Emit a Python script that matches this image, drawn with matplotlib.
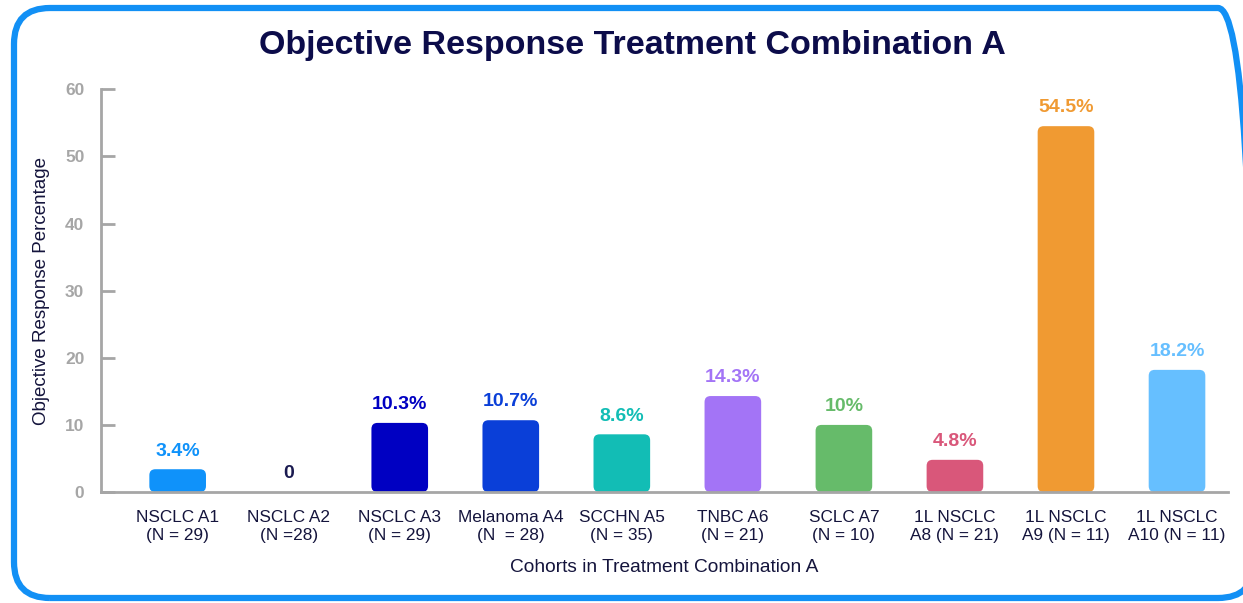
import matplotlib

matplotlib.use("Agg")
import matplotlib.pyplot as plt
from matplotlib.patches import FancyBboxPatch

plt.rcParams["font.family"] = ["Liberation Sans", "DejaVu Sans"]

cohorts = [
    "NSCLC A1\n(N = 29)",
    "NSCLC A2\n(N =28)",
    "NSCLC A3\n(N = 29)",
    "Melanoma A4\n(N  = 28)",
    "SCCHN A5\n(N = 35)",
    "TNBC A6\n(N = 21)",
    "SCLC A7\n(N = 10)",
    "1L NSCLC\nA8 (N = 21)",
    "1L NSCLC\nA9 (N = 11)",
    "1L NSCLC\nA10 (N = 11)",
]
response_pct = [3.4, 0, 10.3, 10.7, 8.6, 14.3, 10.0, 4.8, 54.5, 18.2]
value_labels = ["3.4%", "0", "10.3%", "10.7%", "8.6%", "14.3%", "10%", "4.8%", "54.5%", "18.2%"]
bar_colors = [
    "#0F92FA", "#1A1A50", "#0000C2", "#0A3FD8", "#12BDB5",
    "#A374F6", "#66BB6A", "#D9577A", "#F09A32", "#66BFFF",
]

NAVY = "#14143C"
GRAY = "#A6A6A6"

fig = plt.figure(figsize=(12.43, 6.03), dpi=100)
ax = fig.add_axes([0.0813, 0.184, 0.9067, 0.668])

x = list(range(len(cohorts)))
bars = ax.bar(x, response_pct, width=0.51, color=bar_colors)

# swap square bars for ones with slightly rounded corners
px_x = 1 / 111.0
px_y = 60 / 403.0
for rect, color in zip(bars.patches, bar_colors):
    rect.set_visible(False)
    if rect.get_height() <= 0:
        continue
    rounded = FancyBboxPatch(
        (rect.get_x(), rect.get_y()),
        rect.get_width(),
        rect.get_height(),
        boxstyle=f"round,pad=0,rounding_size={6 * px_x}",
        mutation_aspect=px_y / px_x,
        facecolor=color,
        edgecolor="none",
        zorder=2,
    )
    ax.add_patch(rounded)

for xi, val, label, color in zip(x, response_pct, value_labels, bar_colors):
    ax.annotate(
        label,
        (xi, val),
        xytext=(0, 7),
        textcoords="offset points",
        ha="center",
        va="bottom",
        fontsize=14,
        fontweight="bold",
        color=color,
    )

ax.set_xlim(-0.69, 9.46)
ax.set_ylim(0, 60)
ax.set_yticks(range(0, 61, 10))
ax.set_xticks(x)
ax.set_xticklabels(cohorts, fontsize=12.4, color=NAVY, linespacing=1.2)
ax.tick_params(axis="x", length=0, pad=13)
ax.tick_params(axis="y", direction="in", length=10, width=2, color=GRAY, labelcolor=GRAY,
               labelsize=12.5, pad=12)
for lbl in ax.get_yticklabels():
    lbl.set_fontweight("bold")

for side in ("top", "right"):
    ax.spines[side].set_visible(False)
for side in ("left", "bottom"):
    ax.spines[side].set_color(GRAY)
    ax.spines[side].set_linewidth(2)

ax.set_xlabel("Cohorts in Treatment Combination A", fontsize=13.8, color=NAVY, labelpad=12)
ax.set_ylabel("Objective Response Percentage", fontsize=13.5, color=NAVY, labelpad=11)

fig.text(0.509, 0.925, "Objective Response Treatment Combination A", ha="center", va="center",
         fontsize=24.5, fontweight="bold", color="#0C0C4A")

# rounded blue frame around the whole slide, running off the right edge
frame = FancyBboxPatch(
    (0.14, 0.05), 12.40, 5.90,
    boxstyle="round,pad=0,rounding_size=0.36",
    transform=fig.dpi_scale_trans,
    facecolor="none",
    edgecolor="#1290F5",
    linewidth=4.5,
)
fig.patches.append(frame)

fig.savefig("out.png", dpi=100)
